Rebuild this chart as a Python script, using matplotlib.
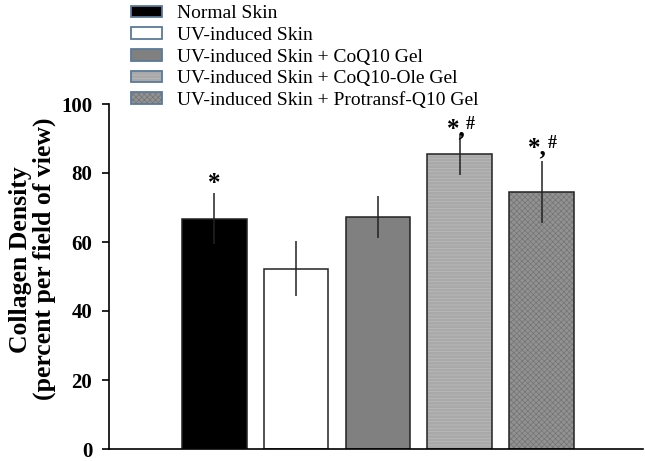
import matplotlib
matplotlib.use("Agg")
import matplotlib.pyplot as plt
from matplotlib.patches import Patch
from matplotlib.legend_handler import HandlerTuple

groups = ["Normal Skin", "UV-induced Skin", "UV-induced Skin + CoQ10 Gel",
          "UV-induced Skin + CoQ10-Ole Gel", "UV-induced Skin + Protransf-Q10 Gel"]
values = [66.8, 52.3, 67.3, 85.4, 74.6]
errors = [7.4, 8.0, 6.1, 6.0, 9.0]
marks = ["*", "", "", "*", "*"]
sup_marks = ["", "", "", "#", "#"]
mark_y = [73.5, None, None, 89.4, 83.9]
yticks = [0, 20, 40, 60, 80, 100]

colors = ["#000000", "#ffffff", "#808080", "#a9a9a9", "#929292"]
hatches = [None, None, None, "-----", "xxxxxx"]
hatch_colors = [None, None, None, "#bcbcbc", "#747474"]

plt.rcParams['font.family'] = ['Liberation Serif', 'DejaVu Serif']
plt.rcParams['hatch.linewidth'] = 0.5

fig = plt.figure(figsize=(6.45, 4.61), dpi=100)
ax = fig.add_axes([109/645, 12/461, 534/645, 345/461])

xs = list(range(len(values)))
for i, (x, v, e) in enumerate(zip(xs, values, errors)):
    if hatches[i]:
        ax.bar(x, v, width=0.79, color=colors[i], edgecolor=hatch_colors[i],
               linewidth=0, hatch=hatches[i], zorder=2)
        ax.bar(x, v, width=0.79, fill=False, edgecolor="#222222",
               linewidth=1.1, zorder=2.5)
    else:
        ax.bar(x, v, width=0.79, color=colors[i], edgecolor="#222222",
               linewidth=1.1, zorder=2)
    ax.errorbar(x, v, yerr=e, fmt="none", ecolor="#222222", elinewidth=1.1,
                capsize=0, zorder=3)
    if marks[i]:
        if sup_marks[i]:
            ax.text(x + 0.07, mark_y[i], "*,", ha="right", va="bottom",
                    fontsize=18, fontweight="bold")
            ax.text(x + 0.07, mark_y[i] + 2.2, sup_marks[i], ha="left",
                    va="bottom", fontsize=13, fontweight="bold")
        else:
            ax.text(x, mark_y[i], marks[i], ha="center", va="bottom",
                    fontsize=18, fontweight="bold")

ax.set_xlim(-1.287, 5.24)
ax.set_ylim(0, 100)
ax.set_yticks(yticks)
ax.set_yticklabels([str(t) for t in yticks], fontsize=15, fontweight="bold")
ax.set_xticks([])
ax.spines["top"].set_visible(False)
ax.spines["right"].set_visible(False)
ax.spines["left"].set_linewidth(1.2)
ax.spines["bottom"].set_linewidth(1.2)
ax.tick_params(axis="y", length=5, width=1.2, direction="out", pad=7)
ax.set_ylabel("Collagen Density\n(percent per field of view)", fontsize=18.5,
              fontweight="bold", linespacing=1.0)
ax.yaxis.set_label_coords(-0.10, 0.55)

handles = []
for c, h, hc in zip(colors, hatches, hatch_colors):
    base = Patch(facecolor=c, edgecolor=hc if hc else c, hatch=h, linewidth=0)
    frame = Patch(fill=False, edgecolor="#5a7a9a", linewidth=1.3)
    handles.append((base, frame))
leg = fig.legend(handles, groups, loc="upper left",
                 bbox_to_anchor=(131/645, 1 - 5.5/461), frameon=False,
                 fontsize=14, handlelength=1.6, handleheight=0.55,
                 labelspacing=0.24, handletextpad=0.75, borderpad=0.0,
                 borderaxespad=0.0,
                 handler_map={tuple: HandlerTuple(ndivide=1, pad=0)})

fig.savefig("out.png", dpi=100)
